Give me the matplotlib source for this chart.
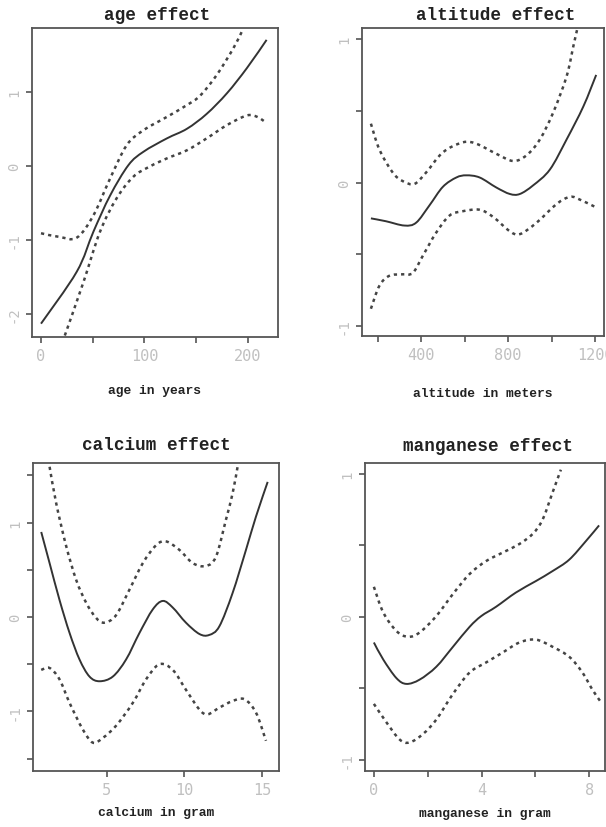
import matplotlib
matplotlib.use("Agg")
import matplotlib.pyplot as plt
from matplotlib.path import Path
from matplotlib.patches import PathPatch
import numpy as np

# ---- age effect ----
age_x = [0, 34.5, 50.6, 66.8, 84.5, 99, 121.6, 141, 160, 179.7, 199, 218]
age_fit = [-2.13, -1.43, -0.89, -0.40, 0.01, 0.19, 0.37, 0.50, 0.70, 0.98, 1.32, 1.70]
age_up_x = [0, 18, 34.5, 50.6, 66.8, 82.9, 99, 121.6, 141, 154, 170, 186, 194]
age_up = [-0.91, -0.96, -0.97, -0.67, -0.17, 0.28, 0.48, 0.66, 0.82, 0.95, 1.23, 1.59, 1.81]
age_lo_x = [23, 41, 57, 73, 89, 105, 121.6, 141, 160, 179.7, 199, 209, 216.8]
age_lo = [-2.29, -1.57, -0.89, -0.44, -0.15, -0.01, 0.10, 0.21, 0.37, 0.55, 0.68, 0.66, 0.59]

# ---- altitude effect ----
alt_x = [169, 238, 323, 377, 438, 500, 562, 608, 669, 746, 808, 854, 915, 992, 1069, 1146, 1205]
alt_fit = [-0.25, -0.27, -0.30, -0.28, -0.16, -0.03, 0.035, 0.05, 0.035, -0.035, -0.08, -0.08, -0.02, 0.09, 0.30, 0.53, 0.75]
alt_up_x = [169, 208, 269, 315, 369, 423, 500, 592, 654, 746, 823, 885, 946, 1008, 1069, 1100, 1118]
alt_up = [0.41, 0.23, 0.07, 0.01, -0.01, 0.07, 0.21, 0.28, 0.27, 0.20, 0.15, 0.19, 0.30, 0.49, 0.74, 0.95, 1.07]
alt_lo_x = [169, 208, 254, 315, 362, 408, 469, 531, 592, 669, 731, 808, 854, 931, 1023, 1085, 1131, 1200]
alt_lo = [-0.88, -0.72, -0.65, -0.64, -0.63, -0.51, -0.35, -0.23, -0.20, -0.19, -0.24, -0.34, -0.36, -0.28, -0.15, -0.10, -0.12, -0.17]

# ---- calcium effect ----
ca_x = [0.77, 1.31, 1.95, 2.60, 3.24, 3.88, 4.53, 5.39, 6.24, 7.10, 7.96, 8.61, 9.25, 10.1, 10.97, 11.6, 12.25, 13.1, 13.97, 14.61, 15.37]
ca_fit = [0.90, 0.57, 0.18, -0.17, -0.45, -0.63, -0.68, -0.63, -0.45, -0.17, 0.08, 0.17, 0.10, -0.06, -0.18, -0.19, -0.10, 0.25, 0.71, 1.06, 1.43]
ca_up_x = [1.31, 1.74, 2.38, 3.03, 3.67, 4.31, 4.85, 5.60, 6.46, 7.32, 8.18, 8.82, 9.68, 10.54, 11.39, 12.04, 12.68, 13.11, 13.43]
ca_up = [1.59, 1.20, 0.75, 0.39, 0.15, -0.01, -0.06, 0.02, 0.29, 0.57, 0.76, 0.80, 0.71, 0.57, 0.54, 0.64, 1.03, 1.31, 1.59]
ca_lo_x = [0.77, 1.31, 1.95, 2.60, 3.45, 4.10, 4.74, 5.60, 6.67, 7.53, 8.39, 9.25, 10.1, 10.97, 11.5, 12.25, 13.1, 13.86, 14.61, 15.26]
ca_lo = [-0.56, -0.54, -0.66, -0.91, -1.19, -1.33, -1.28, -1.15, -0.91, -0.66, -0.50, -0.56, -0.77, -0.98, -1.03, -0.96, -0.89, -0.87, -1.01, -1.31]

# ---- manganese effect ----
mn_x = [0, 0.35, 0.84, 1.21, 1.70, 2.32, 2.94, 3.56, 3.99, 4.54, 5.28, 6.02, 6.64, 7.26, 7.88, 8.37]
mn_fit = [-0.18, -0.30, -0.43, -0.47, -0.44, -0.35, -0.21, -0.07, 0.005, 0.07, 0.17, 0.25, 0.32, 0.40, 0.53, 0.64]
mn_up_x = [0, 0.35, 0.84, 1.27, 1.70, 2.32, 2.94, 3.56, 4.17, 4.79, 5.41, 5.90, 6.27, 6.64, 6.95]
mn_up = [0.21, 0.03, -0.10, -0.14, -0.11, 0.005, 0.16, 0.30, 0.39, 0.45, 0.51, 0.58, 0.68, 0.87, 1.03]
mn_lo_x = [0, 0.47, 0.96, 1.33, 1.83, 2.32, 2.94, 3.56, 4.17, 4.79, 5.41, 6.02, 6.64, 7.26, 7.75, 8.12, 8.41]
mn_lo = [-0.61, -0.74, -0.86, -0.88, -0.82, -0.72, -0.54, -0.39, -0.32, -0.25, -0.18, -0.16, -0.21, -0.28, -0.39, -0.51, -0.59]

panels = [
    dict(title="age effect", xlabel="age in years",
         fit=(age_x, age_fit), up=(age_up_x, age_up), lo=(age_lo_x, age_lo),
         xlim=(-8.7, 229), ylim=(-2.31, 1.86),
         xticks=[0, 50, 100, 150, 200], xlabels=["0", "", "100", "", "200"],
         yticks=[-2, -1, 0, 1], ylabels=["-2", "-1", "0", "1"],
         rect=[32, 29, 278, 338], title_x=157, title_y=15, xlab_y=391),
    dict(title="altitude effect", xlabel="altitude in meters",
         fit=(alt_x, alt_fit), up=(alt_up_x, alt_up), lo=(alt_lo_x, alt_lo),
         xlim=(128, 1241), ylim=(-1.07, 1.077),
         xticks=[200, 400, 600, 800, 1000, 1200], xlabels=["", "400", "", "800", "", "1200"],
         yticks=[-1, -0.5, 0, 0.5, 1], ylabels=["-1", "", "0", "", "1"],
         rect=[362, 29, 604, 337], title_x=496, title_y=15, xlab_y=394),
    dict(title="calcium effect", xlabel="calcium in gram",
         fit=(ca_x, ca_fit), up=(ca_up_x, ca_up), lo=(ca_lo_x, ca_lo),
         xlim=(0.24, 16.1), ylim=(-1.63, 1.63),
         xticks=[5, 10, 15], xlabels=["5", "10", "15"],
         yticks=[-1.5, -1, -0.5, 0, 0.5, 1, 1.5], ylabels=["", "-1", "", "0", "", "1", ""],
         rect=[33, 464, 279, 772], title_x=156, title_y=445, xlab_y=813),
    dict(title="manganese effect", xlabel="manganese in gram",
         fit=(mn_x, mn_fit), up=(mn_up_x, mn_up), lo=(mn_lo_x, mn_lo),
         xlim=(-0.33, 8.59), ylim=(-1.08, 1.077),
         xticks=[0, 2, 4, 6, 8], xlabels=["0", "", "4", "", "8"],
         yticks=[-1, -0.5, 0, 0.5, 1], ylabels=["-1", "", "0", "", "1"],
         rect=[365, 464, 605, 772], title_x=488, title_y=447, xlab_y=814),
]


def smooth_path(xs, ys):
    """Catmull-Rom curve through the read points, as cubic Bezier segments."""
    P = np.column_stack([xs, ys]).astype(float)
    n = len(P)
    verts = [P[0]]
    codes = [Path.MOVETO]
    for i in range(n - 1):
        p0 = P[i - 1] if i > 0 else P[i]
        p1, p2 = P[i], P[i + 1]
        p3 = P[i + 2] if i + 2 < n else P[i + 1]
        c1 = p1 + (p2 - p0) / 6.0
        c2 = p2 - (p3 - p1) / 6.0
        verts += [c1, c2, p2]
        codes += [Path.CURVE4] * 3
    return Path(verts, codes)


W, H = 606, 828
fig = plt.figure(figsize=(W / 100, H / 100), dpi=100)
fig.patch.set_facecolor("white")

for p in panels:
    l, t, r, b = p["rect"]
    ax = fig.add_axes([l / W, 1 - b / H, (r - l) / W, (b - t) / H])
    ax.add_patch(PathPatch(smooth_path(*p["fit"]), fill=False,
                           edgecolor="#333333", lw=1.4))
    for key in ("up", "lo"):
        ax.add_patch(PathPatch(smooth_path(*p[key]), fill=False,
                               edgecolor="#444444", lw=1.8,
                               linestyle=(0, (1.3, 1.6))))
    ax.set_xlim(*p["xlim"])
    ax.set_ylim(*p["ylim"])
    ax.set_xticks(p["xticks"])
    ax.set_xticklabels(p["xlabels"], color="#c0c0c0", fontsize=11,
                       family="DejaVu Sans Mono")
    ax.set_yticks(p["yticks"])
    ax.set_yticklabels(p["ylabels"], color="#c0c0c0", fontsize=10,
                       family="DejaVu Sans Mono", rotation=90, va="center")
    ax.tick_params(axis="both", length=4, width=1.2, color="#555555", pad=4)
    for s in ax.spines.values():
        s.set_color("#555555")
        s.set_linewidth(1.3)
    fig.text(p["title_x"] / W, 1 - p["title_y"] / H, p["title"], ha="center", va="center",
             fontsize=12.7, fontweight="bold", family="Liberation Mono", color="#222222")
    fig.text((l + r) / 2 / W, 1 - p["xlab_y"] / H, p["xlabel"], ha="center", va="center",
             fontsize=9.4, fontweight="bold", family="Liberation Mono", color="#222222")

fig.savefig("out.png", dpi=100, facecolor="white")
